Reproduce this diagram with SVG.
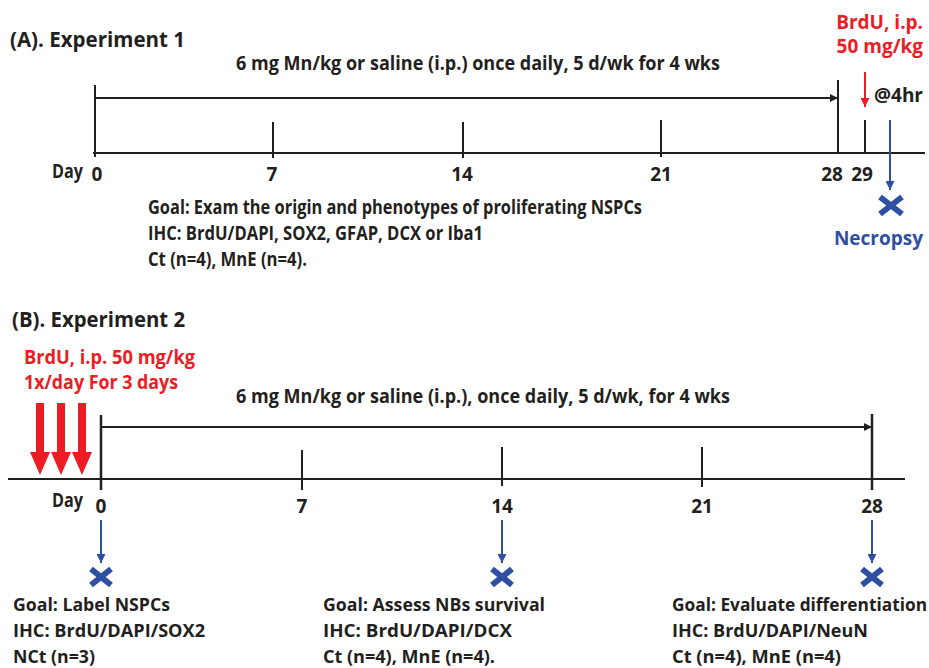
<svg xmlns="http://www.w3.org/2000/svg" width="929" height="668" viewBox="0 0 929 668">
<defs>
<style>
text{font-family:"Open Sans","Liberation Sans",sans-serif;font-weight:bold;fill:#231f20}
.t{font-size:22px}
.m{font-size:19px}
.s{font-size:18px}
.red{fill:#ed1c24}
.blue{fill:#2f4fa2}
.ln{stroke:#231f20;stroke-width:2;fill:none}
.bl{stroke:#2f4fa2;stroke-width:2;fill:none}
.rl{stroke:#ed1c24;stroke-width:2;fill:none}
.x{stroke:#2f4fa2;stroke-width:6;stroke-linecap:butt}
</style>
<marker id="ak" viewBox="0 0 10 10" refX="10" refY="5" markerWidth="10" markerHeight="8" orient="auto" markerUnits="userSpaceOnUse"><path d="M0,0 L10,5 L0,10 Z" fill="#231f20"/></marker>
<marker id="ab" viewBox="0 0 10 10" refX="10" refY="5" markerWidth="11" markerHeight="9" orient="auto" markerUnits="userSpaceOnUse"><path d="M0,0 L10,5 L0,10 Z" fill="#2f4fa2"/></marker>
<marker id="ar" viewBox="0 0 10 10" refX="10" refY="5" markerWidth="11" markerHeight="9" orient="auto" markerUnits="userSpaceOnUse"><path d="M0,0 L10,5 L0,10 Z" fill="#ed1c24"/></marker>
</defs>

<g id="expA">
<text class="t" x="10" y="47" textLength="175" lengthAdjust="spacingAndGlyphs">(A). Experiment 1</text>
<text class="m" x="236" y="70" textLength="484" lengthAdjust="spacingAndGlyphs">6 mg Mn/kg or saline (i.p.) once daily, 5 d/wk for 4 wks</text>
<g id="axisA">
<line class="ln" x1="93" y1="153" x2="925" y2="153"/>
<line class="ln" x1="95" y1="85" x2="95" y2="157"/>
<line class="ln" x1="273" y1="122" x2="273" y2="158"/>
<line class="ln" x1="463" y1="122" x2="463" y2="158"/>
<line class="ln" x1="661" y1="120" x2="661" y2="157"/>
<line class="ln" x1="838" y1="80" x2="838" y2="152"/>
<line class="ln" x1="865" y1="120" x2="865" y2="153"/>
</g>
<text class="m" x="52" y="178" textLength="31" lengthAdjust="spacingAndGlyphs">Day</text>
<text class="m" x="97" y="181" text-anchor="middle">0</text>
<text class="m" x="272" y="181" text-anchor="middle">7</text>
<text class="m" x="462" y="181" text-anchor="middle">14</text>
<text class="m" x="661" y="181" text-anchor="middle">21</text>
<text class="m" x="832" y="181" text-anchor="middle">28</text>
<text class="m" x="862" y="181" text-anchor="middle">29</text>
<text class="m red" x="923" y="29" text-anchor="end">BrdU, i.p.</text>
<text class="m red" x="923" y="53" text-anchor="end">50 mg/kg</text>
<text class="m" x="923" y="102" text-anchor="end">@4hr</text>
<text class="m blue" x="923" y="245" text-anchor="end">Necropsy</text>
<g id="goalA">
<text class="m" x="148" y="214" textLength="494" lengthAdjust="spacingAndGlyphs">Goal: Exam the origin and phenotypes of proliferating NSPCs</text>
<text class="m" x="148" y="240" textLength="335" lengthAdjust="spacingAndGlyphs">IHC: BrdU/DAPI, SOX2, GFAP, DCX or Iba1</text>
<text class="m" x="148" y="266" textLength="159" lengthAdjust="spacingAndGlyphs">Ct (n=4), MnE (n=4).</text>
</g>
<g id="necropsyA">
<line class="x" x1="880" y1="197" x2="902" y2="214"/>
<line class="x" x1="880" y1="214" x2="902" y2="197"/>
</g>
</g>

<g id="expB">
<text class="t" x="12" y="327" textLength="173" lengthAdjust="spacingAndGlyphs">(B). Experiment 2</text>
<text class="m red" x="24" y="364" textLength="171" lengthAdjust="spacingAndGlyphs">BrdU, i.p. 50 mg/kg</text>
<text class="m red" x="24" y="389" textLength="154" lengthAdjust="spacingAndGlyphs">1x/day For 3 days</text>
<text class="m" x="236" y="403" textLength="494" lengthAdjust="spacingAndGlyphs">6 mg Mn/kg or saline (i.p.), once daily, 5 d/wk, for 4 wks</text>
<g id="axisB">
<line class="ln" x1="8" y1="479" x2="905" y2="479"/>
<line class="ln" x1="101" y1="415" x2="101" y2="490" style="stroke-width:2.5"/>
<line class="ln" x1="302" y1="450" x2="302" y2="490"/>
<line class="ln" x1="502" y1="447" x2="502" y2="486"/>
<line class="ln" x1="702" y1="447" x2="702" y2="487"/>
<line class="ln" x1="872" y1="414" x2="872" y2="490" style="stroke-width:2.5"/>
</g>
<g id="brduArrows" fill="#ed1c24">
<path d="M36,403 H44 V452 H50 L40,475 L30,452 H36 Z"/>
<path d="M57,403 H65 V452 H71 L61,475 L51,452 H57 Z"/>
<path d="M78,403 H86 V452 H92 L82,475 L72,452 H78 Z"/>
</g>
<text class="m" x="52" y="507" textLength="31" lengthAdjust="spacingAndGlyphs">Day</text>
<text class="m" x="101" y="513" text-anchor="middle">0</text>
<text class="m" x="302" y="513" text-anchor="middle">7</text>
<text class="m" x="502" y="513" text-anchor="middle">14</text>
<text class="m" x="702" y="513" text-anchor="middle">21</text>
<text class="m" x="872" y="513" text-anchor="middle">28</text>
<g id="sac0">
<line class="x" x1="91" y1="569" x2="111" y2="585"/>
<line class="x" x1="91" y1="585" x2="111" y2="569"/>
<text class="s" x="13" y="611" textLength="157" lengthAdjust="spacingAndGlyphs">Goal: Label NSPCs</text>
<text class="s" x="13" y="637" textLength="192" lengthAdjust="spacingAndGlyphs">IHC: BrdU/DAPI/SOX2</text>
<text class="s" x="13" y="663" textLength="82" lengthAdjust="spacingAndGlyphs">NCt (n=3)</text>
</g>
<g id="sac14">
<line class="x" x1="492" y1="569" x2="512" y2="585"/>
<line class="x" x1="492" y1="585" x2="512" y2="569"/>
<text class="s" x="323" y="611" textLength="222" lengthAdjust="spacingAndGlyphs">Goal: Assess NBs survival</text>
<text class="s" x="323" y="637" textLength="189" lengthAdjust="spacingAndGlyphs">IHC: BrdU/DAPI/DCX</text>
<text class="s" x="323" y="663" textLength="172" lengthAdjust="spacingAndGlyphs">Ct (n=4), MnE (n=4).</text>
</g>
<g id="sac28">
<line class="x" x1="862" y1="569" x2="882" y2="585"/>
<line class="x" x1="862" y1="585" x2="882" y2="569"/>
<text class="s" x="672" y="611" textLength="255" lengthAdjust="spacingAndGlyphs">Goal: Evaluate differentiation</text>
<text class="s" x="672" y="637" textLength="196" lengthAdjust="spacingAndGlyphs">IHC: BrdU/DAPI/NeuN</text>
<text class="s" x="672" y="663" textLength="169" lengthAdjust="spacingAndGlyphs">Ct (n=4), MnE (n=4)</text>
</g>
</g>

<g id="connectors">
<line class="ln" x1="95" y1="98" x2="838" y2="98" marker-end="url(#ak)"/>
<line class="rl" x1="865" y1="72" x2="865" y2="107" marker-end="url(#ar)"/>
<line class="bl" x1="890" y1="120" x2="890" y2="190" marker-end="url(#ab)"/>
<line class="ln" x1="101" y1="427" x2="872" y2="427" marker-end="url(#ak)"/>
<line class="bl" x1="101" y1="520" x2="101" y2="563" marker-end="url(#ab)"/>
<line class="bl" x1="502" y1="520" x2="502" y2="563" marker-end="url(#ab)"/>
<line class="bl" x1="872" y1="520" x2="872" y2="563" marker-end="url(#ab)"/>
</g>
</svg>
